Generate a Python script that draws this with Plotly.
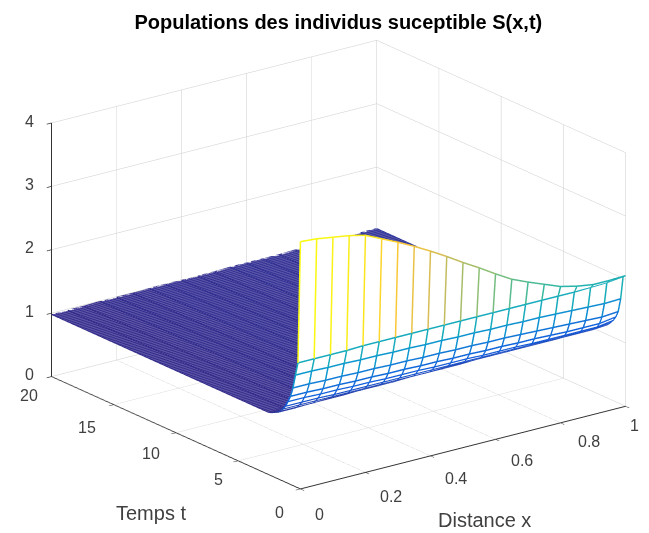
import numpy as np
import plotly.graph_objects as go

TITLE = "Populations des individus suceptible S(x,t)"
X_TITLE = "Distance x"
T_TITLE = "Temps t"

x_values = [0.0, 0.05, 0.1, 0.15, 0.2, 0.25, 0.3, 0.35, 0.4, 0.45, 0.5,
            0.55, 0.6, 0.65, 0.7, 0.75, 0.8, 0.85, 0.9, 0.95, 1.0]

t_values = [0.0, 0.2, 0.4, 0.6, 0.8, 1.0, 1.2, 1.4, 1.6, 1.8, 2.0, 2.2, 2.4, 2.6,
            2.8, 3.0, 3.2, 3.4, 3.6, 3.8, 4.0, 4.2, 4.4, 4.6, 4.8, 5.0, 5.2, 5.4,
            5.6, 5.8, 6.0, 6.2, 6.4, 6.6, 6.8, 7.0, 7.2, 7.4, 7.6, 7.8, 8.0, 8.2,
            8.4, 8.6, 8.8, 9.0, 9.2, 9.4, 9.6, 9.8, 10.0, 10.2, 10.4, 10.6, 10.8,
            11.0, 11.2, 11.4, 11.6, 11.8, 12.0, 12.2, 12.4, 12.6, 12.8, 13.0, 13.2,
            13.4, 13.6, 13.8, 14.0, 14.2, 14.4, 14.6, 14.8, 15.0, 15.2, 15.4, 15.6,
            15.8, 16.0, 16.2, 16.4, 16.6, 16.8, 17.0, 17.2, 17.4, 17.6, 17.8, 18.0,
            18.2, 18.4, 18.6, 18.8, 19.0, 19.2, 19.4, 19.6, 19.8, 20.0]

s_early = [
    [3.90, 3.88, 3.84, 3.80, 3.74, 3.62, 3.50, 3.37, 3.23, 3.08, 2.92, 2.77, 2.61, 2.46, 2.35, 2.25, 2.15, 2.09, 2.05, 2.05, 2.06],
    [1.97, 1.97, 1.97, 1.97, 1.98, 1.98, 1.98, 1.98, 1.98, 1.98, 1.98, 1.98, 1.98, 1.98, 1.98, 1.98, 1.98, 1.98, 1.99, 2.00, 2.03],
    [1.76, 1.76, 1.75, 1.75, 1.74, 1.74, 1.73, 1.73, 1.72, 1.72, 1.71, 1.71, 1.70, 1.70, 1.69, 1.69, 1.68, 1.67, 1.66, 1.65, 1.66],
    [1.54, 1.54, 1.53, 1.53, 1.52, 1.52, 1.51, 1.51, 1.50, 1.50, 1.49, 1.49, 1.48, 1.48, 1.47, 1.46, 1.45, 1.44, 1.43, 1.42, 1.44],
    [1.39, 1.39, 1.38, 1.38, 1.37, 1.37, 1.36, 1.36, 1.35, 1.35, 1.34, 1.34, 1.33, 1.33, 1.32, 1.32, 1.31, 1.30, 1.30, 1.30, 1.34],
    [1.29, 1.29, 1.28, 1.28, 1.27, 1.27, 1.26, 1.26, 1.26, 1.25, 1.25, 1.25, 1.24, 1.24, 1.24, 1.23, 1.23, 1.23, 1.23, 1.23, 1.27],
    [1.20, 1.20, 1.20, 1.19, 1.19, 1.19, 1.19, 1.19, 1.19, 1.19, 1.19, 1.19, 1.19, 1.19, 1.19, 1.19, 1.19, 1.19, 1.19, 1.19, 1.22],
    [1.14, 1.14, 1.14, 1.14, 1.14, 1.14, 1.14, 1.14, 1.14, 1.14, 1.15, 1.15, 1.15, 1.15, 1.15, 1.15, 1.15, 1.15, 1.15, 1.15, 1.17],
    [1.09, 1.09, 1.09, 1.10, 1.10, 1.10, 1.10, 1.10, 1.11, 1.11, 1.11, 1.11, 1.12, 1.12, 1.12, 1.12, 1.12, 1.12, 1.13, 1.13, 1.15],
    [1.05, 1.05, 1.06, 1.06, 1.06, 1.07, 1.07, 1.07, 1.08, 1.08, 1.08, 1.09, 1.09, 1.09, 1.10, 1.10, 1.10, 1.11, 1.11, 1.11, 1.13],
    [1.03, 1.03, 1.03, 1.04, 1.04, 1.05, 1.05, 1.05, 1.06, 1.06, 1.06, 1.07, 1.07, 1.08, 1.08, 1.09, 1.09, 1.09, 1.10, 1.10, 1.12],
    [1.01, 1.01, 1.02, 1.02, 1.03, 1.03, 1.03, 1.04, 1.04, 1.05, 1.05, 1.06, 1.06, 1.07, 1.07, 1.08, 1.08, 1.08, 1.09, 1.09, 1.10],
    [0.99, 1.00, 1.00, 1.01, 1.01, 1.02, 1.02, 1.03, 1.03, 1.04, 1.04, 1.05, 1.05, 1.06, 1.06, 1.07, 1.07, 1.07, 1.08, 1.08, 1.09],
    [0.98, 0.99, 0.99, 1.00, 1.00, 1.01, 1.01, 1.02, 1.02, 1.03, 1.03, 1.04, 1.04, 1.05, 1.05, 1.06, 1.06, 1.06, 1.07, 1.07, 1.08],
]
s_flat = [0.98, 0.98, 0.98, 0.99, 0.99, 0.99, 1.00, 1.00, 1.00, 1.00, 1.00,
          1.01, 1.01, 1.01, 1.01, 1.02, 1.02, 1.02, 1.02, 1.03, 1.03]

x_ticks = [0, 0.2, 0.4, 0.6, 0.8, 1]
x_labels = ["0", "0.2", "0.4", "0.6", "0.8", "1"]
t_ticks = [0, 5, 10, 15, 20]
t_labels = ["0", "5", "10", "15", "20"]
z_ticks = [0, 1, 2, 3, 4]
z_labels = ["0", "1", "2", "3", "4"]

PARULA = [[0.0, "#352a87"], [0.1, "#0f5cdd"], [0.2, "#1481d6"], [0.3, "#06a4ca"],
          [0.42, "#2eb7a4"], [0.6, "#87bf77"], [0.75, "#d1bb59"], [0.875, "#fec832"],
          [1.0, "#f9fb0e"]]
CMIN, CMAX = 0.97, 3.9
SPLIT = 9  # rows before this one are the open wire wall, the rest is the dense flat part

x = np.array(x_values)
t = np.array(t_values)
S = np.array(s_early + [s_flat] * (len(t_values) - len(s_early)))


def mesh_trace(rows, row_span, width):
    lx, ly, lz, lc = [], [], [], []

    def add_line(xs, ys, zs):
        # flat edge colouring: every segment takes the colour of its first vertex
        for i in range(len(xs) - 1):
            lx.extend([xs[i], xs[i + 1], None])
            ly.extend([ys[i], ys[i + 1], None])
            lz.extend([zs[i], zs[i + 1], None])
            lc.extend([zs[i], zs[i], zs[i]])

    for r in rows:
        add_line(x.tolist(), [t[r]] * len(x), S[r].tolist())
    a, b = row_span
    for c in range(len(x)):
        add_line([x[c]] * (b - a), t[a:b].tolist(), S[a:b, c].tolist())
    return go.Scatter3d(
        x=lx, y=ly, z=lz, mode="lines", hoverinfo="skip", showlegend=False,
        line=dict(color=lc, colorscale=PARULA, cmin=CMIN, cmax=CMAX, width=width),
    )


# facets are white where the mesh is open, tinted where the mesh is so dense it reads as solid
tint = np.zeros_like(S)
tint[SPLIT:, :] = 1

fig = go.Figure()
fig.add_trace(go.Surface(
    x=x, y=t + 0.04, z=S - 0.008,
    surfacecolor=tint, colorscale=[[0, "white"], [1, "#6a63b0"]], cmin=0, cmax=1,
    showscale=False, hoverinfo="skip",
    lighting=dict(ambient=1, diffuse=0, specular=0, roughness=1, fresnel=0),
))
fig.add_trace(mesh_trace(range(SPLIT), (0, SPLIT + 1), 3))
fig.add_trace(mesh_trace(range(SPLIT, len(t)), (SPLIT, len(t)), 2))


def axis(tv, rng):
    return dict(
        title=dict(text=""),
        range=rng, autorange=False, tickmode="array", tickvals=tv, showticklabels=False,
        showbackground=False, showgrid=True, gridcolor="#cccccc", gridwidth=1,
        showline=True, linecolor="#333333", linewidth=2,
        ticks="outside", ticklen=6, tickcolor="#333333", tickwidth=1.5,
        zeroline=False, showspikes=False,
    )


TICK_FONT = dict(size=16, color="#404040", family="Liberation Sans")
LABEL_FONT = dict(size=20, color="#404040", family="Liberation Sans")


def tick_note(xv, yv, zv, text, dx, dy):
    return dict(x=xv, y=yv, z=zv, text=text, showarrow=False, xanchor="center", yanchor="middle",
                xshift=dx, yshift=dy, font=TICK_FONT)


x_shift = [(19, -25), (26, -24), (26, -22), (26, -21), (28, -19), (9, -19)]
t_shift = [(-21, -23), (-20, -18), (-25, -21), (-27, -23), (-22, -19)]
notes = []
for v, s, d in zip(x_ticks, x_labels, x_shift):
    notes.append(tick_note(v, 0, 0, s, d[0], d[1]))
for v, s, d in zip(t_ticks, t_labels, t_shift):
    notes.append(tick_note(0, v, 0, s, d[0], d[1]))
for v, s in zip(z_ticks, z_labels):
    notes.append(tick_note(0, 20, v, s, -22, 2))

R = 1.234
K = 1.54
CENTER = dict(x=0.0183, y=-0.0256, z=-0.0263)
fig.update_layout(
    width=649, height=533, paper_bgcolor="white", margin=dict(l=0, r=0, t=0, b=0),
    showlegend=False,
    title=dict(text="<b>" + TITLE + "</b>", x=0.509, xanchor="center", y=0.973, yanchor="middle",
               font=dict(size=20, color="black", family="Liberation Sans")),
    annotations=[
        dict(text=X_TITLE, x=476 / 649, y=1 - 512 / 533, xref="paper", yref="paper", showarrow=False,
             xanchor="center", yanchor="middle", font=LABEL_FONT),
        dict(text=T_TITLE, x=143 / 649, y=1 - 505 / 533, xref="paper", yref="paper", showarrow=False,
             xanchor="center", yanchor="middle", font=LABEL_FONT),
    ],
    scene=dict(
        domain=dict(x=[0.043, 1.0], y=[0.009, 1.0]),
        xaxis=axis(x_ticks, [0, 1]),
        yaxis=axis(t_ticks, [0, 20]),
        zaxis=axis(z_ticks, [0, 4]),
        annotations=notes,
        aspectmode="manual", aspectratio=dict(x=1 * K, y=1.02 * K, z=0.663 * K),
        camera=dict(projection=dict(type="orthographic"),
                    eye=dict(x=-0.565 * R + CENTER["x"], y=-0.753 * R + CENTER["y"], z=0.339 * R + CENTER["z"]),
                    center=CENTER, up=dict(x=0, y=0, z=1)),
    ),
)
fig.write_html("out.html")
